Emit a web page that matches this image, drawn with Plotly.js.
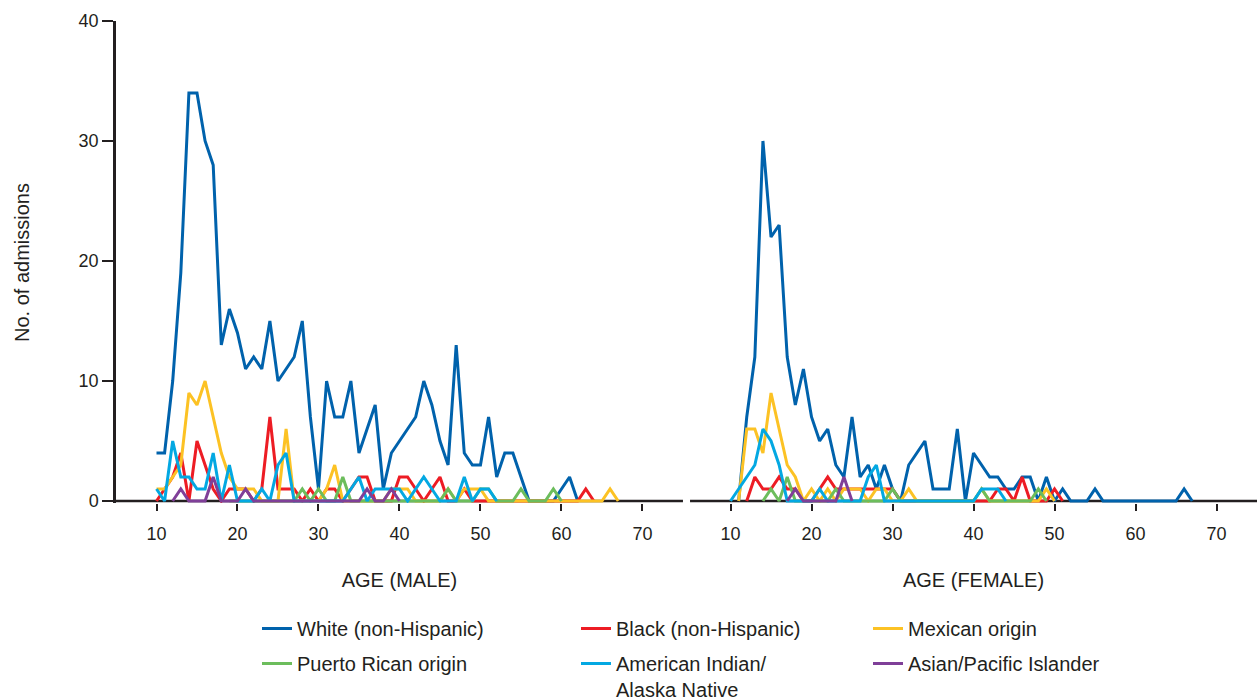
<!DOCTYPE html>
<html><head><meta charset="utf-8">
<script src="https://cdn.plot.ly/plotly-3.0.1.min.js"></script>
<style>html,body{margin:0;padding:0;background:#fff}#chart{width:1257px;height:700px}</style>
</head><body><div id="chart"></div>
<script>
// Ages shown on both panels
const ages = [10,11,12,13,14,15,16,17,18,19,20,21,22,23,24,25,26,27,28,29,30,31,32,33,34,35,36,37,38,39,40,41,42,43,44,45,46,47,48,49,50,51,52,53,54,55,56,57,58,59,60,61,62,63,64,65,66,67];
const xTicks = [10,20,30,40,50,60,70];
const yTicks = [0,10,20,30,40];
const yTitle = 'No. of admissions';
const seriesNames = ['White (non-Hispanic)','Black (non-Hispanic)','Mexican origin','Puerto Rican origin','American Indian/<br>Alaska Native','Asian/Pacific Islander'];

// MALE (ages 10..67), null = no value
const maleWhite = [4,4,10,19,34,34,30,28,13,16, 14,11,12,11,15,10,11,12,15,7, 1,10,7,7,10,4,6,8,1,4, 5,6,7,10,8,5,3,13,4,3, 3,7,2,4,4,2,0,0,0,0, 1,2,0,null,null,null,null,null];
const maleBlack = [0,1,2,4,0,5,3,1,0,1, 1,1,0,1,7,1,1,1,0,1, 0,1,1,0,1,2,2,0,0,0, 2,2,1,0,1,2,0,0,1,0, 0,0,0,0,0,0,0,0,0,0, 0,0,0,1,0,null,null,null];
const maleMexican = [1,1,2,3,9,8,10,7,4,2, 1,1,1,0,0,0,6,0,0,0, 0,1,3,0,0,0,0,0,0,1, 1,1,0,0,0,0,1,0,1,1, 1,0,0,0,0,0,0,0,0,0, 0,0,0,0,0,0,1,0];
const malePuertoRican = [null,null,null,null,null,null,null,null,null,0, 0,0,0,0,0,0,0,0,1,0, 1,0,0,2,0,0,0,0,0,0, 0,0,0,0,0,0,1,0,0,0, 1,1,0,0,0,1,0,0,0,1, 0,null,null,null,null,null,null,null];
const maleAmIndian = [1,0,5,2,2,1,1,4,0,3, 0,0,0,1,0,3,4,0,0,0, 0,0,0,0,1,2,0,1,1,1, 1,0,1,2,1,0,0,0,2,0, 1,1,0,null,null,null,null,null,null,null, null,null,null,null,null,null,null,null];
const maleAsian = [null,null,0,1,0,0,0,2,0,0, 0,1,0,0,0,0,0,0,0,0, 0,0,0,0,0,0,1,0,0,1, 0,null,null,null,null,null,null,null,null,null, null,null,null,null,null,null,null,null,null,null, null,null,null,null,null,null,null,null];

// FEMALE (ages 10..67)
const femaleWhite = [null,0,7,12,30,22,23,12,8,11, 7,5,6,3,2,7,2,3,1,3, 1,0,3,4,5,1,1,1,6,0, 4,3,2,2,1,1,2,2,0,2, 0,1,0,0,0,1,0,0,0,0, 0,0,0,0,0,0,1,0];
const femaleBlack = [null,null,0,2,1,1,2,1,1,0, 0,1,2,1,1,1,1,1,1,1, 1,0,0,0,0,0,0,0,0,0, 0,0,0,1,1,0,2,0,0,0, 1,0,null,null,null,null,null,null,null,null, null,null,null,null,null,null,null,null];
const femaleMexican = [null,0,6,6,4,9,6,3,2,0, 1,0,1,0,1,1,1,0,1,1, 0,0,1,0,0,0,0,0,0,0, 0,1,0,0,0,0,0,0,0,1, 0,null,null,null,null,null,null,null,null,null, null,null,null,null,null,null,null,null];
const femalePuertoRican = [null,null,null,null,0,1,0,2,0,0, 0,0,0,1,0,0,0,0,0,0, 1,0,0,0,0,0,0,0,0,0, 0,1,0,0,0,0,0,0,1,0, null,null,null,null,null,null,null,null,null,null, null,null,null,null,null,null,null,null];
const femaleAmIndian = [0,1,2,3,6,5,3,0,0,0, 0,1,0,0,0,0,0,2,3,0, 0,0,0,0,0,0,0,0,0,0, 0,1,1,1,0,null,null,null,null,null, null,null,null,null,null,null,null,null,null,null, null,null,null,null,null,null,null,null];
const femaleAsian = [null,null,null,null,null,null,null,0,1,0, 0,0,0,0,2,0,null,null,null,null, null,null,null,null,null,null,null,null,null,null, null,null,null,null,null,null,null,null,null,null, null,null,null,null,null,null,null,null,null,null, null,null,null,null,null,null,null,null];

const INK = '#231f20';
const colors = ['#0062ac','#ed1c24','#fcc224','#6cbd5c','#03a8e2','#7f3f98'];
const maleData = [maleWhite, maleBlack, maleMexican, malePuertoRican, maleAmIndian, maleAsian];
const femaleData = [femaleWhite, femaleBlack, femaleMexican, femalePuertoRican, femaleAmIndian, femaleAsian];
const legendFor = ['legend','legend2','legend3','legend','legend2','legend3'];

const traces = [];
for (let i = 0; i < 6; i++) {
  traces.push({
    type:'scatter', mode:'lines', x: ages, y: maleData[i], xaxis:'x', yaxis:'y',
    name: seriesNames[i], legendgroup:'g'+i, legend: legendFor[i], showlegend:true,
    line:{color:colors[i], width:3}, connectgaps:false
  });
}
for (let i = 0; i < 6; i++) {
  traces.push({
    type:'scatter', mode:'lines', x: ages, y: femaleData[i], xaxis:'x2', yaxis:'y2',
    name: seriesNames[i], legendgroup:'g'+i, showlegend:false,
    line:{color:colors[i], width:3}, connectgaps:false
  });
}

const xCommon = {
  range:[5,75], tickvals:xTicks, ticks:'outside', ticklen:7, tickwidth:2, tickcolor:INK,
  showline:false, showgrid:false, zeroline:false, ticklabelstandoff:7,
  tickfont:{size:18, color:INK}, automargin:false
};
const legCommon = {
  orientation:'v', xref:'container', yref:'container', xanchor:'left', yanchor:'top',
  traceorder:'grouped', tracegroupgap:6, valign:'top',
  font:{size:20, color:INK, family:'Liberation Sans, Arial, sans-serif'}, bgcolor:'rgba(0,0,0,0)', borderwidth:0
};
const legTop = 1 - 609/700;

const layout = {
  width:1257, height:700,
  margin:{l:116, r:0, t:21, b:197, autoexpand:false},
  paper_bgcolor:'#ffffff', plot_bgcolor:'#ffffff',
  font:{family:'Liberation Sans, Arial, sans-serif', size:18, color:INK},
  showlegend:true,
  xaxis: Object.assign({}, xCommon, {domain:[0,0.4969], anchor:'y', title:{text:'AGE (MALE)', font:{size:20, color:INK}, standoff:30}}),
  xaxis2: Object.assign({}, xCommon, {domain:[0.5031,1], anchor:'y2', title:{text:'AGE (FEMALE)', font:{size:20, color:INK}, standoff:30}}),
  yaxis:{
    range:[-1/6,40], tickvals:yTicks, ticks:'outside', ticklen:11, tickwidth:2, tickcolor:INK,
    showline:true, linewidth:2.5, linecolor:INK, showgrid:false, zeroline:false, anchor:'x',
    tickfont:{size:18, color:INK}, automargin:false
  },
  yaxis2:{
    range:[-1/6,40], matches:'y', anchor:'x2', visible:false, showgrid:false, zeroline:false
  },
  annotations:[
    {text:yTitle, xref:'paper', yref:'paper', x:(22-116)/1141, y:(503-263)/482,
     xanchor:'center', yanchor:'middle', textangle:-90, showarrow:false,
     font:{size:20, color:INK, family:'Liberation Sans, Arial, sans-serif'}}
  ],
  shapes:[
    {type:'line', xref:'x', yref:'y', x0:5, x1:75, y0:0, y1:0, layer:'below', line:{color:INK, width:2.5}},
    {type:'line', xref:'x2', yref:'y2', x0:5, x1:75, y0:0, y1:0, layer:'below', line:{color:INK, width:2.5}}
  ],
  legend: Object.assign({}, legCommon, {x:257/1257, y:legTop}),
  legend2: Object.assign({}, legCommon, {x:576/1257, y:legTop}),
  legend3: Object.assign({}, legCommon, {x:868/1257, y:legTop})
};

Plotly.newPlot('chart', traces, layout, {displayModeBar:false});
</script>
</body></html>
